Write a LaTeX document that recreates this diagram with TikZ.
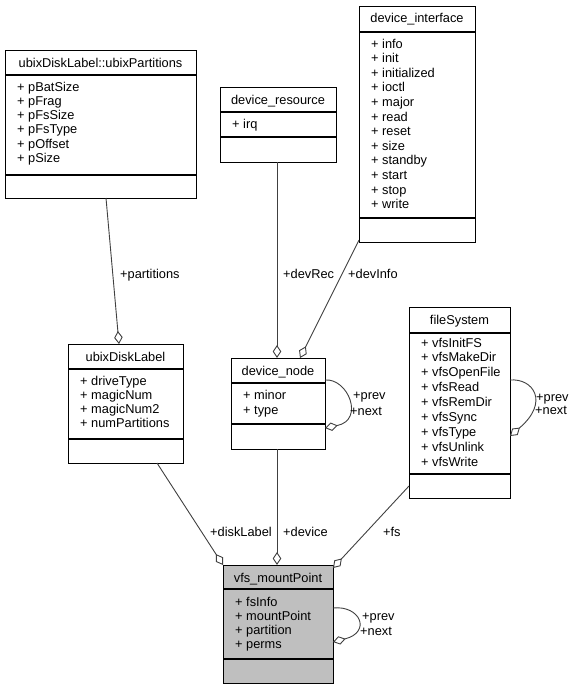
\documentclass[tikz,border=0pt]{standalone}
\usepackage{fontspec}
\setmainfont{Liberation Sans}
\usetikzlibrary{arrows.meta,fit}
\definecolor{edgegray}{RGB}{64,64,64}
\definecolor{boxgray}{RGB}{191,191,191}
\begin{document}
\begin{tikzpicture}[x=1pt,y=-1pt,
  box/.style={draw=black, line width=1pt, inner sep=0pt, outer sep=0pt},
  sepline/.style={draw=black, line width=1.2pt},
  txt/.style={inner sep=0pt, anchor=base west, font=\fontsize{12.8}{14}\selectfont},
  ttl/.style={inner sep=0pt, anchor=base, font=\fontsize{12.8}{14}\selectfont},
  edge/.style={draw=edgegray, line width=0.9pt, -{Diamond[fill=white, length=13pt, width=8.5pt, line width=0.9pt]}}
]
\useasboundingbox (0,0) rectangle (575,691);

% ubixDiskLabel::ubixPartitions
\node[box, fit={(5,50) (196,198)}] (ubp) {};
\draw[sepline] (ubp.west |- 0,75) -- (ubp.east |- 0,75);
\draw[sepline] (ubp.west |- 0,175) -- (ubp.east |- 0,175);
\node[ttl] (ubp-t) at (100.5,67) {ubixDiskLabel::ubixPartitions};
\foreach \a [count=\k from 0] in {pBatSize,pFrag,pFsSize,pFsType,pOffset,pSize}
  \node[txt] (ubp-a\k) at (17,{91+14.3*\k}) {+ \a};

% device_resource
\node[box, fit={(220,87) (336,162)}] (dres) {};
\draw[sepline] (dres.west |- 0,112) -- (dres.east |- 0,112);
\draw[sepline] (dres.west |- 0,137) -- (dres.east |- 0,137);
\node[ttl] (dres-t) at (278,104) {device\_resource};
\node[txt] (dres-a0) at (232,128) {+ irq};

% device_interface
\node[box, fit={(359,6) (475,242)}] (dint) {};
\draw[sepline] (dint.west |- 0,32) -- (dint.east |- 0,32);
\draw[sepline] (dint.west |- 0,218) -- (dint.east |- 0,218);
\node[ttl] (dint-t) at (417,22) {device\_interface};
\foreach \a [count=\k from 0] in {info,init,initialized,ioctl,major,read,reset,size,standby,start,stop,write}
  \node[txt] (dint-a\k) at (371,{48+14.6*\k}) {+ \a};

% ubixDiskLabel
\node[box, fit={(68,344) (183,463)}] (udl) {};
\draw[sepline] (udl.west |- 0,369) -- (udl.east |- 0,369);
\draw[sepline] (udl.west |- 0,439) -- (udl.east |- 0,439);
\node[ttl] (udl-t) at (125.5,361) {ubixDiskLabel};
\foreach \a [count=\k from 0] in {driveType,magicNum,magicNum2,numPartitions}
  \node[txt] (udl-a\k) at (80,{385+14.3*\k}) {+ \a};

% device_node
\node[box, fit={(231,358) (325,449)}] (dnode) {};
\draw[sepline] (dnode.west |- 0,383) -- (dnode.east |- 0,383);
\draw[sepline] (dnode.west |- 0,424) -- (dnode.east |- 0,424);
\node[ttl] (dnode-t) at (278,375.5) {device\_node};
\foreach \a [count=\k from 0] in {minor,type}
  \node[txt] (dnode-a\k) at (243,{399+15.5*\k}) {+ \a};

% fileSystem
\node[box, fit={(409,307) (510,498)}] (fs) {};
\draw[sepline] (fs.west |- 0,333) -- (fs.east |- 0,333);
\draw[sepline] (fs.west |- 0,474) -- (fs.east |- 0,474);
\node[ttl] (fs-t) at (459.5,324) {fileSystem};
\foreach \a [count=\k from 0] in {vfsInitFS,vfsMakeDir,vfsOpenFile,vfsRead,vfsRemDir,vfsSync,vfsType,vfsUnlink,vfsWrite}
  \node[txt] (fs-a\k) at (421,{347+14.9*\k}) {+ \a};

% vfs_mountPoint
\node[box, fill=boxgray, fit={(223,565) (333,683)}] (vfs) {};
\draw[sepline] (vfs.west |- 0,589) -- (vfs.east |- 0,589);
\draw[sepline] (vfs.west |- 0,659) -- (vfs.east |- 0,659);
\node[ttl] (vfs-t) at (278,582) {vfs\_mountPoint};
\foreach \a [count=\k from 0] in {fsInfo,mountPoint,partition,perms}
  \node[txt] (vfs-a\k) at (235,{606+14.3*\k}) {+ \a};

% connectors
\draw[edge] (ubp.south -| 106,0) -- (udl.north -| 119,0);
\draw[edge] (dres.south -| 277,0) -- (dnode.north -| 277,0);
\draw[edge] (dint.west |- 0,240) -- (dnode.north -| 300,0);
\draw[edge] (udl.south -| 157,0) -- (vfs.north -| 223,0);
\draw[edge] (dnode.south -| 277,0) -- (vfs.north -| 277,0);
\draw[edge] (fs.west |- 0,486) -- (vfs.east |- 0,568);
\draw[edge] (dnode.east |- 0,380) .. controls (348,378) and (365,420) .. (dnode.east |- 0,428);
\draw[edge] (fs.east |- 0,380) .. controls (533,378) and (550,402) .. (fs.east |- 0,436);
\draw[edge] (vfs.east |- 0,608) .. controls (360,605) and (372,632) .. (vfs.east |- 0,642);

% connector labels
\node[txt] (l-part) at (120,278) {+partitions};
\node[txt] (l-devrec) at (283,278) {+devRec};
\node[txt] (l-devinfo) at (348,278) {+devInfo};
\node[txt] (l-disk) at (210,536) {+diskLabel};
\node[txt] (l-dev) at (283,536) {+device};
\node[txt] (l-fs) at (383,536) {+fs};
\node[txt] (l-dnp) at (353,399) {+prev};
\node[txt] (l-dnn) at (350,415) {+next};
\node[txt] (l-fsp) at (536,401) {+prev};
\node[txt] (l-fsn) at (535,414) {+next};
\node[txt] (l-vp) at (362,620) {+prev};
\node[txt] (l-vn) at (360,635) {+next};
\end{tikzpicture}
\end{document}
